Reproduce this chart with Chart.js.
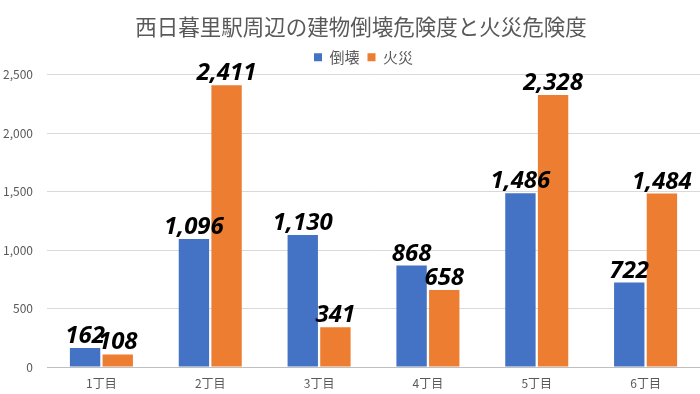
<!DOCTYPE html>
<html>
<head>
<meta charset="utf-8">
<script src="https://cdn.jsdelivr.net/npm/chart.js@4/dist/chart.umd.min.js"></script>
<style>
  html, body { margin: 0; padding: 0; background: #fff; }
  #wrap { width: 700px; height: 394px; }
</style>
</head>
<body>
<div id="wrap"><canvas id="chart" width="700" height="394"></canvas></div>
<script>
// data
const categories = ["1丁目", "2丁目", "3丁目", "4丁目", "5丁目", "6丁目"];
const collapseVals = [162, 1096, 1130, 868, 1486, 722];
const fireVals = [108, 2411, 341, 658, 2328, 1484];
const seriesNames = ["倒壊", "火災"];
const titleText = "西日暮里駅周辺の建物倒壊危険度と火災危険度";

const JP = '"Noto Sans CJK JP", "Noto Sans", sans-serif';

// value labels above bars
const valueLabels = {
    id: "valueLabels",
    afterDatasetsDraw(chart) {
        const ctx = chart.ctx;
        ctx.save();
        ctx.font = 'italic bold 24px "Noto Sans", "Liberation Sans", sans-serif';
        ctx.fillStyle = "#000";
        ctx.textAlign = "center";
        ctx.textBaseline = "alphabetic";
        chart.data.datasets.forEach((ds, i) => {
            chart.getDatasetMeta(i).data.forEach((bar, j) => {
                ctx.fillText(ds.data[j].toLocaleString("en-US"), bar.x, bar.y - 5);
            });
        });
        ctx.restore();
    }
};

// title + legend sit a bit right of centre in the original
const headerShift = {
    id: "headerShift",
    afterLayout(chart) {
        chart.titleBlock.left += 20;
        chart.legend.left += 25;
    }
};

new Chart(document.getElementById("chart"), {
    type: "bar",
    data: {
        labels: categories,
        datasets: [
            { label: seriesNames[0], data: collapseVals, backgroundColor: "#4472C4" },
            { label: seriesNames[1], data: fireVals, backgroundColor: "#ED7D31" }
        ]
    },
    options: {
        responsive: false,
        animation: false,
        categoryPercentage: 0.6,
        barPercentage: 0.93,
        layout: { padding: { top: 14, left: 2, right: 0, bottom: 0 } },
        plugins: {
            title: {
                display: true,
                text: titleText,
                color: "#595959",
                font: { family: JP, size: 21.5, weight: "normal" },
                padding: { top: 0, bottom: 2 }
            },
            legend: {
                display: true,
                labels: {
                    color: "#595959",
                    font: { family: JP, size: 15 },
                    boxWidth: 8,
                    boxHeight: 8,
                    padding: 8
                }
            },
            tooltip: { enabled: false }
        },
        scales: {
            x: {
                grid: { display: false, drawTicks: false },
                border: { color: "#bfbfbf", width: 1 },
                afterFit(scale) { scale.height = 27; },
                ticks: { color: "#595959", font: { family: JP, size: 12, lineHeight: 1 }, padding: 10 }
            },
            y: {
                min: 0,
                max: 2500,
                grid: { color: "#d9d9d9", drawTicks: false },
                border: { display: false },
                afterFit(scale) { scale.width = 45; },
                ticks: {
                    stepSize: 500,
                    color: "#595959",
                    font: { family: JP, size: 12 },
                    padding: 14,
                    callback: v => v.toLocaleString("en-US")
                }
            }
        }
    },
    plugins: [valueLabels, headerShift]
});
</script>
</body>
</html>
